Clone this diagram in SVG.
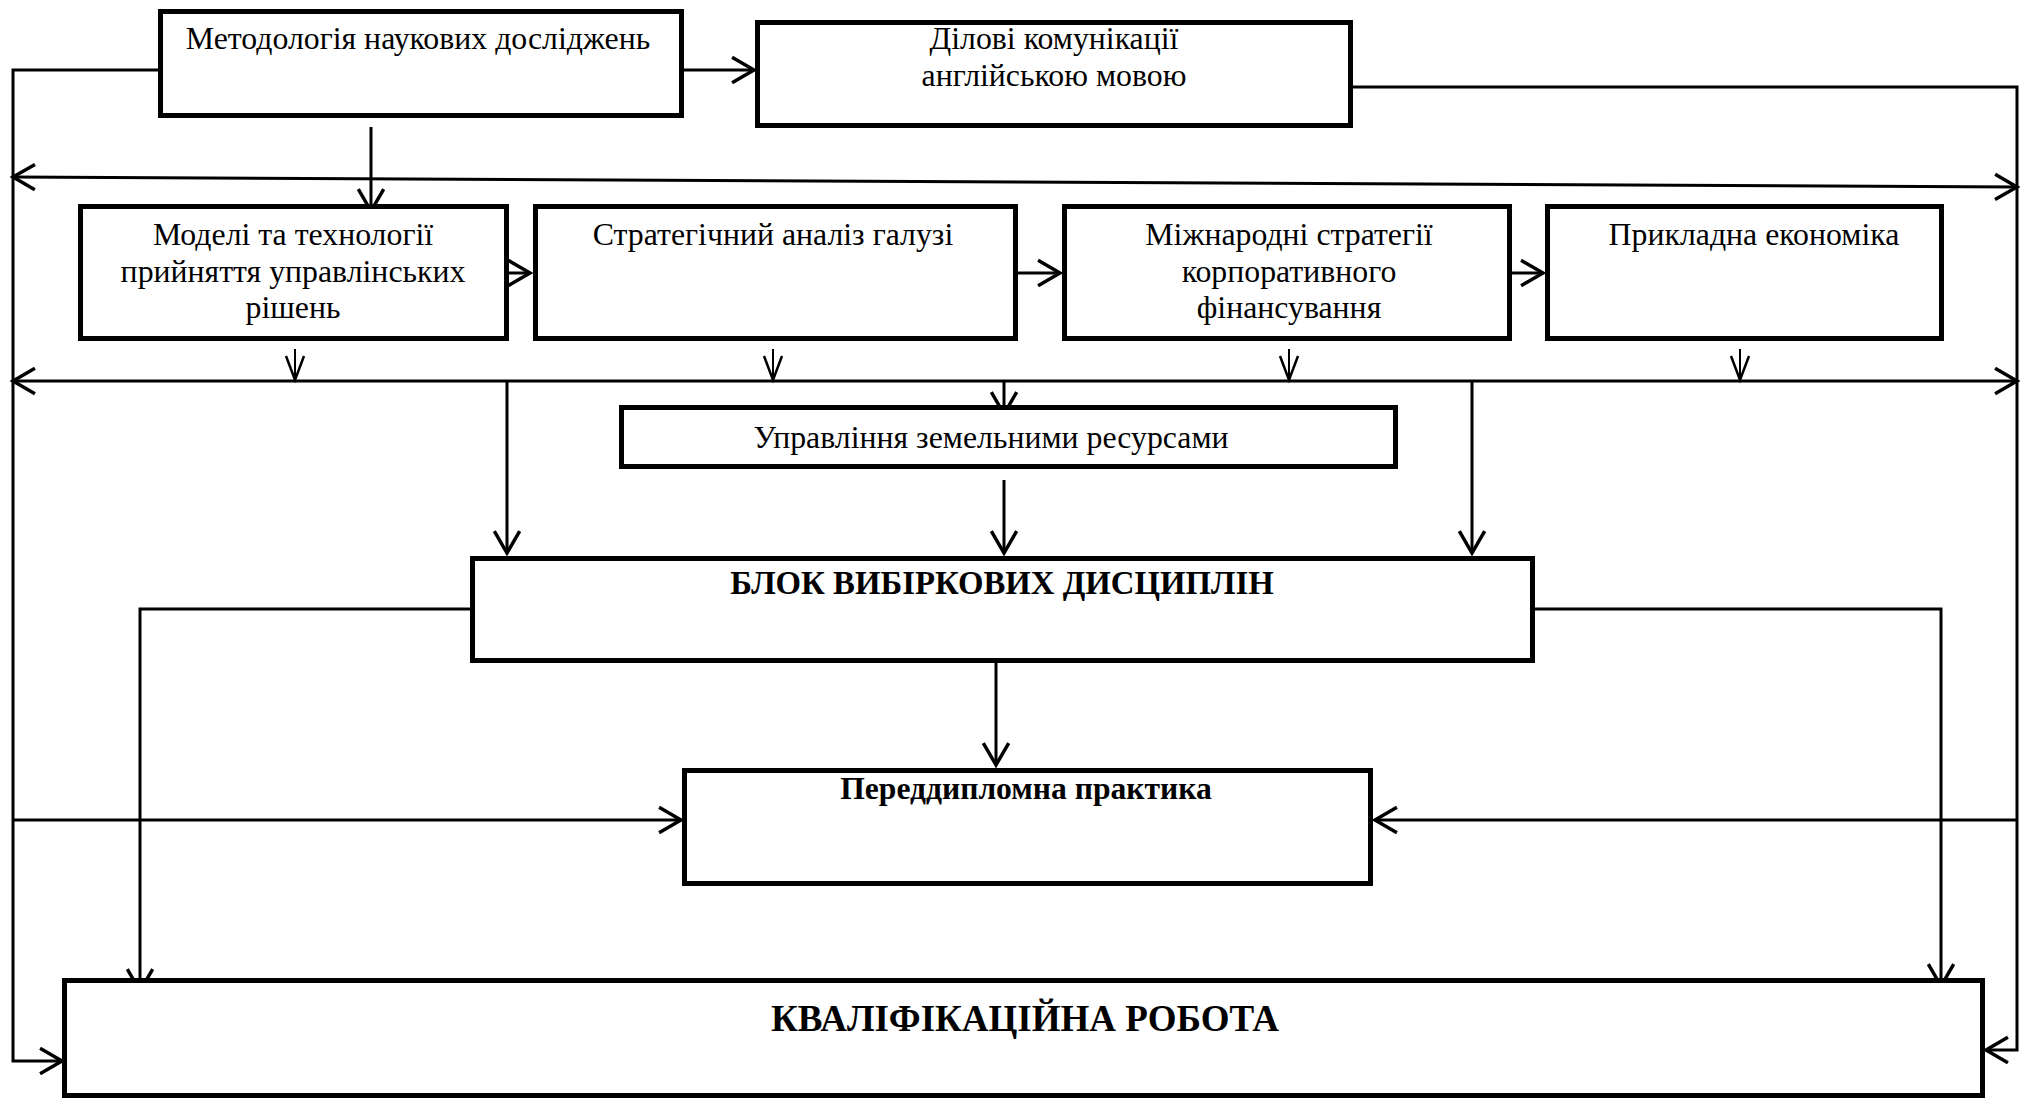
<svg xmlns="http://www.w3.org/2000/svg" width="2026" height="1100" viewBox="0 0 2026 1100">
<style>
.box{fill:#fff;stroke:#000;stroke-width:5}
.c{fill:none;stroke:#000;stroke-width:3}
.s{fill:none;stroke:#000;stroke-width:2}
.t{font-family:"Liberation Serif","Times New Roman",serif;font-size:31.8px;fill:#000;text-anchor:middle}
.b{font-weight:bold}
</style>
<defs>
<marker id="a" markerUnits="userSpaceOnUse" markerWidth="30" markerHeight="30" viewBox="-22 -13 26 26" refX="0" refY="0" orient="auto-start-reverse">
<path d="M-19,-11 L0,0 L-19,11" fill="none" stroke="#000" stroke-width="3"/>
</marker>
<marker id="d" markerUnits="userSpaceOnUse" markerWidth="30" markerHeight="30" viewBox="-26 -13 30 26" refX="0" refY="0" orient="auto">
<path d="M-24,-9 L0,0 L-24,9" fill="none" stroke="#000" stroke-width="2.5"/>
</marker>
</defs>
<rect width="2026" height="1100" fill="#fff"/>
<g id="connectors">
<line class="c" x1="684" y1="70" x2="754" y2="70" marker-end="url(#a)"/>
<path class="c" d="M158 70 H13 V1061 H62" marker-end="url(#a)"/>
<path class="c" d="M1353 87 H2017 V1050 H1986" marker-end="url(#a)"/>
<line class="c" x1="13" y1="177" x2="2017" y2="187" marker-start="url(#a)" marker-end="url(#a)"/>
<line class="c" x1="371" y1="127" x2="371" y2="211" marker-end="url(#a)"/>
<line class="c" x1="509" y1="273" x2="530" y2="273" marker-end="url(#a)"/>
<line class="c" x1="1018" y1="273" x2="1060" y2="273" marker-end="url(#a)"/>
<line class="c" x1="1512" y1="273" x2="1543" y2="273" marker-end="url(#a)"/>
<line class="s" x1="295" y1="349" x2="295" y2="380" marker-end="url(#d)"/>
<line class="s" x1="773" y1="349" x2="773" y2="380" marker-end="url(#d)"/>
<line class="s" x1="1289" y1="349" x2="1289" y2="380" marker-end="url(#d)"/>
<line class="s" x1="1740" y1="349" x2="1740" y2="380" marker-end="url(#d)"/>
<line class="c" x1="13" y1="381" x2="2017" y2="381" marker-start="url(#a)" marker-end="url(#a)"/>
<line class="c" x1="507" y1="381" x2="507" y2="553" marker-end="url(#a)"/>
<line class="c" x1="1472" y1="381" x2="1472" y2="553" marker-end="url(#a)"/>
<line class="c" x1="1004" y1="381" x2="1004" y2="414" marker-end="url(#a)"/>
<line class="c" x1="1004" y1="480" x2="1004" y2="553" marker-end="url(#a)"/>
<path class="c" d="M470 609 H140 V991" marker-end="url(#a)"/>
<path class="c" d="M1535 609 H1941 V986" marker-end="url(#a)"/>
<line class="c" x1="996" y1="663" x2="996" y2="765" marker-end="url(#a)"/>
<line class="c" x1="13" y1="820" x2="681" y2="820" marker-end="url(#a)"/>
<line class="c" x1="2017" y1="820" x2="1375" y2="820" marker-end="url(#a)"/>
</g>
<g id="n1"><rect class="box" x="160.5" y="11.5" width="521" height="104"/><text class="t" x="418" y="49">Методологія наукових досліджень</text></g>
<g id="n2"><rect class="box" x="757.5" y="22.5" width="593" height="103"/><text class="t" x="1054" y="49">Ділові комунікації</text><text class="t" x="1054" y="86">англійською мовою</text></g>
<g id="n3"><rect class="box" x="80.5" y="206.5" width="426" height="132"/><text class="t" x="293" y="245">Моделі та технології</text><text class="t" x="293" y="282">прийняття управлінських</text><text class="t" x="293" y="318">рішень</text></g>
<g id="n4"><rect class="box" x="535.5" y="206.5" width="480" height="132"/><text class="t" x="773" y="245">Стратегічний аналіз галузі</text></g>
<g id="n5"><rect class="box" x="1064.5" y="206.5" width="445" height="132"/><text class="t" x="1289" y="245">Міжнародні стратегії</text><text class="t" x="1289" y="282">корпоративного</text><text class="t" x="1289" y="318">фінансування</text></g>
<g id="n6"><rect class="box" x="1547.5" y="206.5" width="394" height="132"/><text class="t" x="1754" y="245">Прикладна економіка</text></g>
<g id="n7"><rect class="box" x="621.5" y="407.5" width="774" height="59"/><text class="t" x="991" y="448">Управління земельними ресурсами</text></g>
<g id="n8"><rect class="box" x="472.5" y="558.5" width="1060" height="102"/><text class="t b" x="1002" y="594" style="font-size:32.8px">БЛОК ВИБІРКОВИХ ДИСЦИПЛІН</text></g>
<g id="n9"><rect class="box" x="684.5" y="770.5" width="686" height="113"/><text class="t b" x="1026" y="799" style="font-size:31.6px">Переддипломна практика</text></g>
<g id="n10"><rect class="box" x="64.5" y="980.5" width="1918" height="115"/><text class="t b" x="1025" y="1031" style="font-size:37px">КВАЛІФІКАЦІЙНА РОБОТА</text></g>
</svg>
